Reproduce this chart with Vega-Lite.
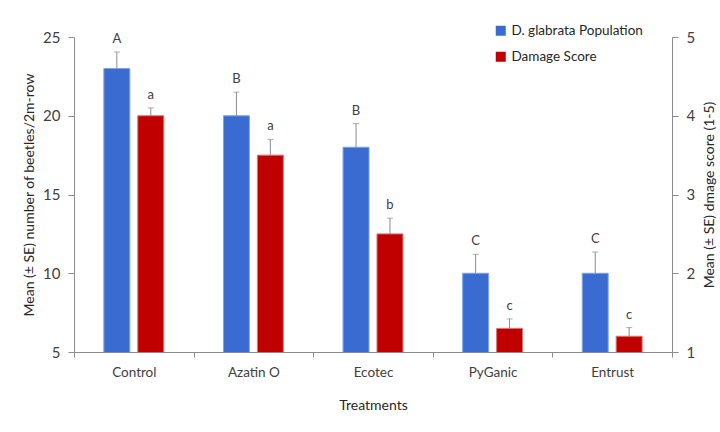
{
  "$schema": "https://vega.github.io/schema/vega-lite/v6.json",
  "autosize": "none",
  "width": 598,
  "height": 315,
  "padding": {"left": 74, "top": 37, "right": 48, "bottom": 80},
  "background": "white",
  "config": {
    "font": "Lato",
    "view": {"stroke": null},
    "axis": {"domainColor": "#8c8c8c", "tickColor": "#8c8c8c", "labelColor": "#404040", "titleColor": "#262626", "grid": false, "labelFont": "Lato", "titleFont": "Lato", "titleFontWeight": "normal"}
  },
  "data": {
    "values": [
      {"treatment": "Control", "series": "D. glabrata Population", "mean": 23, "upper": 24.05, "letter": "A"},
      {"treatment": "Azatin O", "series": "D. glabrata Population", "mean": 20, "upper": 21.5, "letter": "B"},
      {"treatment": "Ecotec", "series": "D. glabrata Population", "mean": 18, "upper": 19.5, "letter": "B"},
      {"treatment": "PyGanic", "series": "D. glabrata Population", "mean": 10, "upper": 11.2, "letter": "C"},
      {"treatment": "Entrust", "series": "D. glabrata Population", "mean": 10, "upper": 11.35, "letter": "C"},
      {"treatment": "Control", "series": "Damage Score", "mean": 4.0, "upper": 4.1, "letter": "a"},
      {"treatment": "Azatin O", "series": "Damage Score", "mean": 3.5, "upper": 3.7, "letter": "a"},
      {"treatment": "Ecotec", "series": "Damage Score", "mean": 2.5, "upper": 2.7, "letter": "b"},
      {"treatment": "PyGanic", "series": "Damage Score", "mean": 1.3, "upper": 1.42, "letter": "c"},
      {"treatment": "Entrust", "series": "Damage Score", "mean": 1.2, "upper": 1.31, "letter": "c"}
    ]
  },
  "encoding": {
    "x": {
      "field": "treatment", "type": "nominal",
      "scale": {"domain": ["Control", "Azatin O", "Ecotec", "PyGanic", "Entrust"], "paddingInner": 0, "paddingOuter": 0},
      "axis": {"title": "Treatments", "labelAngle": 0, "labelFontSize": 13.5, "titleFontSize": 14, "labelPadding": 8, "titlePadding": 20, "tickBand": "extent", "tickSize": 5}
    },
    "xOffset": {
      "field": "series", "type": "nominal",
      "scale": {"domain": ["D. glabrata Population", "Damage Score"], "paddingInner": 0.235, "paddingOuter": 0.88}
    }
  },
  "layer": [
    {
      "transform": [{"filter": "datum.series === 'D. glabrata Population'"}],
      "encoding": {
        "y": {
          "field": "mean", "type": "quantitative",
          "scale": {"domain": [5, 25], "zero": false, "nice": false},
          "axis": {"title": "Mean (± SE) number of beetles/2m-row", "values": [5, 10, 15, 20, 25], "labelFontSize": 15, "titleFontSize": 14, "tickSize": 6, "labelPadding": 8, "titlePadding": 6}
        }
      },
      "layer": [
        {
          "mark": {"type": "bar", "clip": true, "stroke": "#7fa3ea", "strokeWidth": 1},
          "encoding": {
            "color": {"field": "series", "type": "nominal",
              "scale": {"domain": ["D. glabrata Population", "Damage Score"], "range": ["#3a6bd0", "#c00000"]},
              "legend": {"title": null, "orient": "none", "legendX": 420, "legendY": -13, "symbolType": "square", "symbolSize": 100, "labelFontSize": 13.5, "labelColor": "#262626", "rowPadding": 11, "labelOffset": 4, "symbolStrokeWidth": 0, "labelFont": "Lato"}
            }
          }
        },
        {
          "mark": {"type": "rule", "color": "#8c8c8c", "strokeWidth": 1},
          "encoding": {"y2": {"field": "upper"}}
        },
        {
          "mark": {"type": "tick", "color": "#8c8c8c", "thickness": 1, "size": 6},
          "encoding": {"y": {"field": "upper", "type": "quantitative"}}
        },
        {
          "mark": {"type": "text", "baseline": "bottom", "dy": -6, "fontSize": 13, "color": "#404040"},
          "encoding": {"y": {"field": "upper", "type": "quantitative"}, "text": {"field": "letter"}}
        }
      ]
    },
    {
      "transform": [{"filter": "datum.series === 'Damage Score'"}],
      "encoding": {
        "y": {
          "field": "mean", "type": "quantitative",
          "scale": {"domain": [1, 5], "zero": false, "nice": false},
          "axis": {"orient": "right", "title": "Mean (± SE) dmage score (1-5)", "titleAngle": -90, "titleBaseline": "top", "values": [1, 2, 3, 4, 5], "labelFontSize": 15, "titleFontSize": 14, "tickSize": 6, "labelPadding": 8, "titlePadding": 8}
        }
      },
      "layer": [
        {
          "mark": {"type": "bar", "clip": true, "stroke": "#e07070", "strokeWidth": 1},
          "encoding": {"color": {"field": "series", "type": "nominal"}}
        },
        {
          "mark": {"type": "rule", "color": "#8c8c8c", "strokeWidth": 1},
          "encoding": {"y2": {"field": "upper"}}
        },
        {
          "mark": {"type": "tick", "color": "#8c8c8c", "thickness": 1, "size": 6},
          "encoding": {"y": {"field": "upper", "type": "quantitative"}}
        },
        {
          "mark": {"type": "text", "baseline": "bottom", "dy": -6, "fontSize": 13, "color": "#404040"},
          "encoding": {"y": {"field": "upper", "type": "quantitative"}, "text": {"field": "letter"}}
        }
      ]
    }
  ],
  "resolve": {"scale": {"y": "independent"}}
}
